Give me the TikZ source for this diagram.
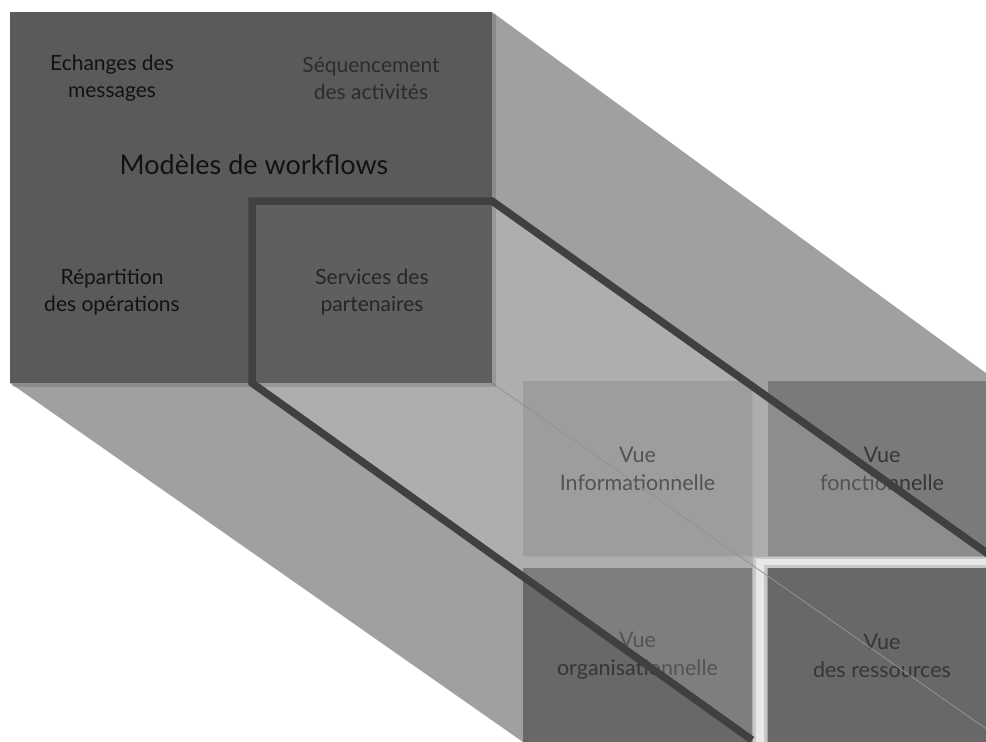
\documentclass[tikz,border=0pt]{standalone}
\usepackage{fontspec}
\setmainfont{Lato}
\usetikzlibrary{shadows}
\definecolor{frontc}{HTML}{5A5A5A}
\definecolor{partnerc}{HTML}{5F5F5F}
\definecolor{extrc}{HTML}{A0A0A0}
\definecolor{vtlc}{HTML}{8C8C8C}
\definecolor{vtrc}{HTML}{7A7A7A}
\definecolor{vbc}{HTML}{686868}
\definecolor{thickc}{HTML}{404040}
\definecolor{thinc}{HTML}{929292}
\definecolor{txtA}{HTML}{121212}
\definecolor{txtB}{HTML}{2C2C2C}
\definecolor{txtC}{HTML}{262626}
\definecolor{vtxt}{HTML}{363636}
\definecolor{gapc}{HTML}{C8C8C8}
\definecolor{gapw}{HTML}{E8E8E8}
\begin{document}
\begin{tikzpicture}[x=1pt,y=-1pt,
  lab/.style={align=center,inner sep=0pt,font=\fontsize{21}{27}\selectfont},
  biglab/.style={inner sep=0pt,font=\fontsize{27}{32}\selectfont,text=txtA},
  vbox/.style={align=center,inner sep=0pt,minimum width=229pt,minimum height=175pt,
    font=\fontsize{21.5}{28}\selectfont,text=vtxt,
    drop shadow={shadow xshift=2pt,shadow yshift=-2pt,opacity=.18}},
  thickline/.style={draw=thickc,line width=7.5pt,line join=miter},
  thinline/.style={draw=thinc,line width=0.8pt},
  tube/.style={fill=white,opacity=.15},
  gapstrip/.style={fill=gapc},
  gapcore/.style={fill=gapw},
  ]
\useasboundingbox (0,0) rectangle (986,742);
\fill[white] (0,0) rectangle (986,742);
\clip (0,0) rectangle (986,742);

% corners
\coordinate (fTL) at (10,12);
\coordinate (fTR) at (492,12);
\coordinate (fBR) at (492,383);
\coordinate (fBL) at (10,383);
\coordinate (bTR) at (1005,387);
\coordinate (bBR) at (1005,742);
\coordinate (bBL) at (523,742);
\coordinate (pTL) at (252,201);
\coordinate (pTR) at (492,201);
\coordinate (pBL) at (252,383);
\coordinate (qTR) at (1005,566);
\coordinate (qBL) at (752,740);

% extrusion
\fill[extrc] (fTL) -- (fTR) -- (bTR) -- (bBR) -- (bBL) -- (fBL) -- cycle;

% back face boxes
\node[vbox,fill=vtlc] (vinfo) at (637.5,468.5) {Vue\\Informationnelle};
\node[vbox,fill=vtrc] (vfonc) at (882,468.5) {Vue\\fonctionnelle};
\node[vbox,fill=vbc] (vorga) at (637.5,655.5) {Vue\\organisationnelle};
\node[vbox,fill=vbc] (vress) at (882,655.5) {Vue\\des ressources};

% translucent tube of the partner services
\fill[tube] (pTL) -- (pTR) -- (qTR) -- (760,560) -- (760,742) -- (pBL) -- cycle;

% light gaps around the last view
\fill[gapstrip] (753,557) rectangle (767,742);
\fill[gapstrip] (753,557) rectangle (997,568);
\fill[gapcore] (756,559) rectangle (764,742);
\fill[gapcore] (756,559) rectangle (997,565);

% thin hidden edge
\draw[thinline] (fBR) -- (bBR);

% front face
\fill[black,opacity=.12] (12,14) rectangle (496,387);
\fill[frontc] (fTL) rectangle (fBR);
\fill[partnerc] (256,205) rectangle (fBR);

% thick outline of the partner tube
\draw[thickline] (qTR) -- (pTR) -- (pTL) -- (pBL) -- (qBL);

% front labels
\node[lab,text=txtA] (echanges) at (112,78) {Echanges des\\messages};
\node[lab,text=txtB] (sequence) at (371,78) {Séquencement\\des activités};
\node[biglab,anchor=base] (modeles) at (254,174) {Modèles de workflows};
\node[lab,text=txtA] (repartition) at (112,292) {Répartition\\des opérations};
\node[lab,text=txtC] (services) at (372,292) {Services des\\partenaires};
\end{tikzpicture}
\end{document}
